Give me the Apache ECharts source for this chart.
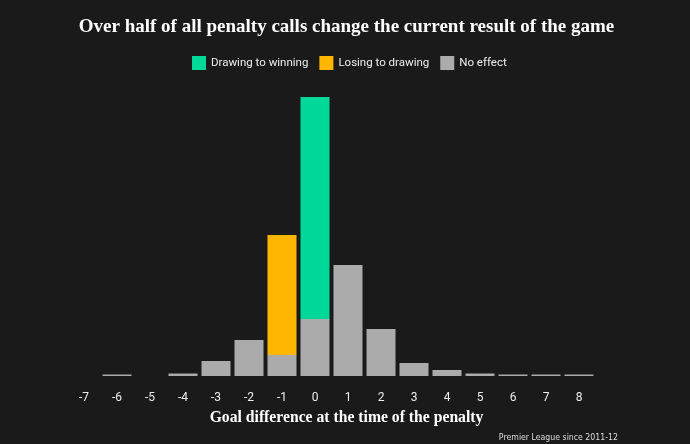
<!DOCTYPE html>
<html>
<head>
<meta charset="utf-8">
<script src="https://cdn.jsdelivr.net/npm/echarts@6/dist/echarts.min.js"></script>
<style>
html,body{margin:0;padding:0;background:#1a1a1a;}
#chart{width:690px;height:444px;}
</style>
</head>
<body>
<div id="chart"></div>
<script>
const categories = ['-7','-6','-5','-4','-3','-2','-1','0','1','2','3','4','5','6','7','8'];
const noEffect = [0, 1.5, 0, 2.5, 15, 36, 21, 57, 111, 47, 13, 6, 2.5, 1.5, 1.5, 1.5];
const drawingToWinning = [0, 0, 0, 0, 0, 0, 0, 222, 0, 0, 0, 0, 0, 0, 0, 0];
const losingToDrawing = [0, 0, 0, 0, 0, 0, 120, 0, 0, 0, 0, 0, 0, 0, 0, 0];

const chart = echarts.init(document.getElementById('chart'));
const serifFont = '"Liberation Serif", serif';
const sansFont = 'Roboto, "Noto Sans", sans-serif';
chart.setOption({
  backgroundColor: '#1a1a1a',
  animation: false,
  title: [
    {text: 'Over half of all penalty calls change the current result of the game',
     left: 346.5, top: 18, textAlign: 'center', padding: 0,
     textStyle: {color: '#ffffff', fontFamily: serifFont, fontWeight: 'bold', fontSize: 19}},
    {text: 'Goal difference at the time of the penalty',
     left: 346.5, top: 410, textAlign: 'center', padding: 0,
     textStyle: {color: '#ffffff', fontFamily: serifFont, fontWeight: 'bold', fontSize: 15.7}},
    {text: 'Premier League since 2011-12',
     right: 72, top: 433, padding: 0,
     textStyle: {color: '#dddddd', fontFamily: '"DejaVu Sans Condensed", Roboto, sans-serif', fontWeight: 'normal', fontSize: 8.7}}
  ],
  legend: {
    top: 56, left: 192, padding: 0,
    data: ['Drawing to winning', 'Losing to drawing', 'No effect'],
    itemWidth: 14, itemHeight: 14, itemGap: 11,
    icon: 'rect',
    textStyle: {color: '#eeeeee', fontFamily: sansFont, fontSize: 11.5}
  },
  grid: {left: 67.5, right: 94.5, top: 96, bottom: 68, containLabel: false},
  xAxis: {
    type: 'category', data: categories,
    axisLine: {show: false}, axisTick: {show: false},
    axisLabel: {color: '#eeeeee', fontFamily: sansFont, fontSize: 12, margin: 16}
  },
  yAxis: {type: 'value', min: 0, max: 280, show: false, splitLine: {show: false}},
  series: [
    {name: 'No effect', type: 'bar', stack: 'a', data: noEffect, barWidth: 29,
     itemStyle: {color: '#ababab'}},
    {name: 'Losing to drawing', type: 'bar', stack: 'a', data: losingToDrawing, barWidth: 29,
     itemStyle: {color: '#ffb600'}},
    {name: 'Drawing to winning', type: 'bar', stack: 'a', data: drawingToWinning, barWidth: 29,
     itemStyle: {color: '#00d899'}}
  ]
});
</script>
</body>
</html>
